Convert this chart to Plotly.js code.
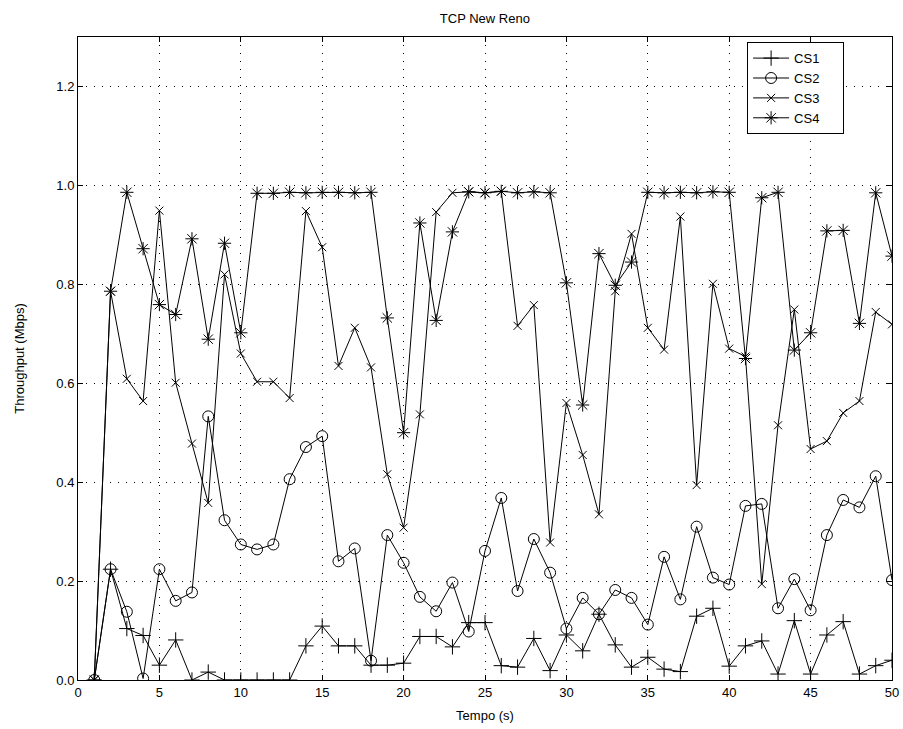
<!DOCTYPE html>
<html>
<head>
<meta charset="utf-8">
<script src="https://cdn.plot.ly/plotly-3.0.1.min.js"></script>
<style>
  html, body { margin: 0; padding: 0; background: #ffffff; }
  #chart { width: 903px; height: 729px; }
</style>
</head>
<body>
<div id="chart"></div>
<script>
// Time axis (seconds)
const tempo = [1, 2, 3, 4, 5, 6, 7, 8, 9, 10,
               11, 12, 13, 14, 15, 16, 17, 18, 19, 20,
               21, 22, 23, 24, 25, 26, 27, 28, 29, 30,
               31, 32, 33, 34, 35, 36, 37, 38, 39, 40,
               41, 42, 43, 44, 45, 46, 47, 48, 49, 50];

// Throughput per connection (Mbps)
const cs1 = [0.000, 0.224, 0.104, 0.090, 0.030, 0.081, 0.000, 0.016, 0.000, 0.000,
             0.000, 0.000, 0.000, 0.069, 0.109, 0.069, 0.069, 0.030, 0.030, 0.034,
             0.088, 0.088, 0.067, 0.116, 0.116, 0.029, 0.026, 0.084, 0.019, 0.091,
             0.059, 0.133, 0.071, 0.026, 0.046, 0.022, 0.017, 0.129, 0.145, 0.028,
             0.069, 0.079, 0.012, 0.120, 0.012, 0.091, 0.118, 0.012, 0.029, 0.040];

const cs2 = [0.000, 0.224, 0.138, 0.003, 0.224, 0.160, 0.177, 0.533, 0.323, 0.274,
             0.264, 0.274, 0.406, 0.471, 0.493, 0.240, 0.266, 0.039, 0.293, 0.237,
             0.168, 0.139, 0.197, 0.098, 0.261, 0.368, 0.180, 0.285, 0.217, 0.104,
             0.166, 0.133, 0.182, 0.166, 0.112, 0.249, 0.163, 0.310, 0.207, 0.193,
             0.352, 0.356, 0.145, 0.204, 0.141, 0.293, 0.364, 0.349, 0.412, 0.202];

const cs3 = [0.000, 0.786, 0.609, 0.564, 0.949, 0.601, 0.478, 0.358, 0.820, 0.660,
             0.603, 0.603, 0.570, 0.948, 0.875, 0.635, 0.712, 0.632, 0.416, 0.308,
             0.537, 0.946, 0.985, 0.987, 0.985, 0.988, 0.716, 0.758, 0.278, 0.560,
             0.455, 0.335, 0.786, 0.902, 0.712, 0.668, 0.937, 0.394, 0.801, 0.670,
             0.654, 0.194, 0.515, 0.749, 0.467, 0.483, 0.540, 0.564, 0.744, 0.719];

const cs4 = [0.000, 0.786, 0.986, 0.872, 0.759, 0.739, 0.892, 0.689, 0.883, 0.702,
             0.984, 0.984, 0.986, 0.985, 0.986, 0.986, 0.985, 0.986, 0.732, 0.500,
             0.924, 0.727, 0.906, 0.987, 0.985, 0.988, 0.985, 0.987, 0.985, 0.803,
             0.556, 0.862, 0.798, 0.845, 0.986, 0.985, 0.986, 0.985, 0.987, 0.986,
             0.650, 0.975, 0.986, 0.667, 0.702, 0.908, 0.909, 0.721, 0.985, 0.857];

const seriesNames = ['CS1', 'CS2', 'CS3', 'CS4'];
const xTicks = [0, 5, 10, 15, 20, 25, 30, 35, 40, 45, 50];
const yTicks = [0, 0.2, 0.4, 0.6, 0.8, 1.0, 1.2];

const symbols = ['cross-thin-open', 'circle-open', 'x-thin-open', 'asterisk-open'];
const sizes = [11, 11, 8, 11];
const values = [cs1, cs2, cs3, cs4];

// trailing no-break spaces give the legend box its right-hand padding
const pad = '\u00a0\u00a0\u00a0\u00a0\u00a0';

const traces = values.map((ys, i) => ({
  x: tempo,
  y: ys,
  name: seriesNames[i] + pad,
  type: 'scatter',
  mode: 'lines+markers',
  line: { color: '#000000', width: 1 },
  marker: {
    symbol: symbols[i],
    size: sizes[i],
    color: '#000000',
    line: { color: '#000000', width: 1 }
  },
  cliponaxis: true
}));

const font = { family: 'Liberation Sans, Arial, Helvetica, sans-serif', color: '#000000' };

const axisCommon = {
  showline: true,
  linecolor: '#000000',
  linewidth: 1,
  mirror: 'allticks',
  ticks: 'inside',
  ticklen: 5,
  tickwidth: 1,
  tickcolor: '#000000',
  showgrid: true,
  gridcolor: '#000000',
  gridwidth: 1,
  griddash: '1px,7px',
  zeroline: false,
  tickfont: Object.assign({ size: 13 }, font)
};

const layout = {
  width: 903,
  height: 729,
  margin: { l: 78, r: 11, t: 37, b: 49 },
  paper_bgcolor: '#ffffff',
  plot_bgcolor: '#ffffff',
  font: font,
  showlegend: true,
  title: {
    text: 'TCP New Reno',
    font: Object.assign({ size: 13 }, font),
    x: 0.537,
    xanchor: 'center',
    y: 0.975,
    yanchor: 'middle'
  },
  xaxis: Object.assign({}, axisCommon, {
    range: [0, 50],
    tickvals: xTicks,
    ticktext: xTicks.map(String),
    title: { text: 'Tempo (s)', font: Object.assign({ size: 13 }, font), standoff: 12 }
  }),
  yaxis: Object.assign({}, axisCommon, {
    range: [0, 1.3],
    tickvals: yTicks,
    ticktext: yTicks.map(v => v.toFixed(1)),
    title: { text: 'Throughput (Mbps)', font: Object.assign({ size: 13 }, font), standoff: 28 }
  }),
  legend: {
    x: 0.822,
    y: 0.992,
    xanchor: 'left',
    yanchor: 'top',
    bgcolor: '#ffffff',
    bordercolor: '#000000',
    borderwidth: 1,
    font: Object.assign({ size: 13 }, font),
    tracegroupgap: 0,
    itemwidth: 36
  }
};

Plotly.newPlot('chart', traces, layout, { displayModeBar: false, staticPlot: true });
</script>
</body>
</html>
